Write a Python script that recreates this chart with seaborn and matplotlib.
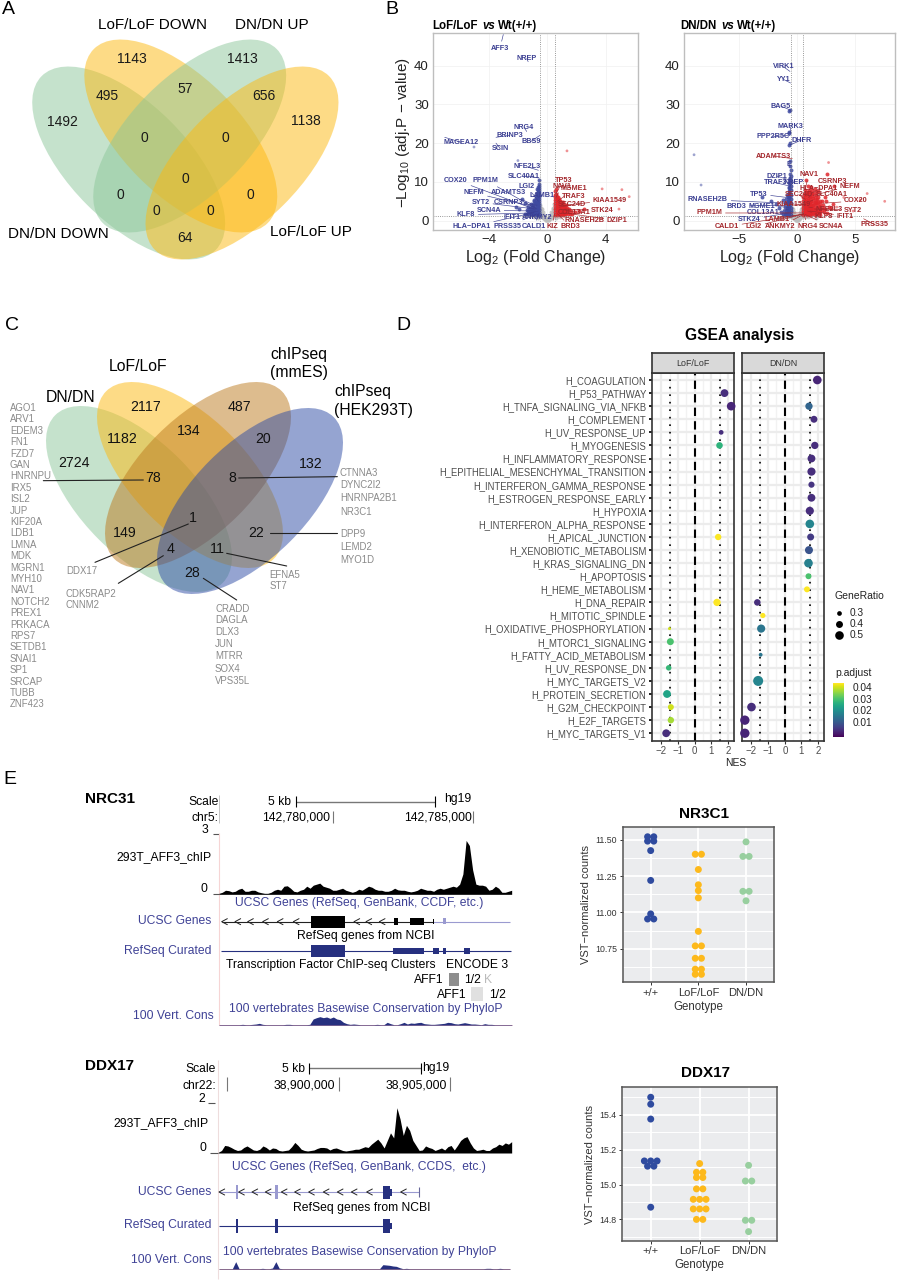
import numpy as np
import pandas as pd
import matplotlib as mpl
mpl.use('Agg')
import matplotlib.pyplot as plt
from matplotlib.patches import Ellipse, Rectangle
import seaborn as sns

# ---------- data ----------
venn_a_names = ['LoF/LoF DOWN', 'DN/DN UP', 'DN/DN DOWN', 'LoF/LoF UP']
venn_a_counts = ['1143', '1413', '495', '57', '656', '1492', '1138', '0', '0', '0', '0', '0', '0', '0', '64']
venn_c_names = ['DN/DN', 'LoF/LoF']
venn_c_counts = ['2117', '487', '1182', '134', '20', '2724', '132', '78', '8', '1', '149', '22', '4', '11', '28']

list_78 = ['AGO1', 'ARV1', 'EDEM3', 'FN1', 'FZD7', 'GAN', 'HNRNPU', 'IRX5', 'ISL2', 'JUP', 'KIF20A', 'LDB1', 'LMNA', 'MDK',
           'MGRN1', 'MYH10', 'NAV1', 'NOTCH2', 'PREX1', 'PRKACA', 'RPS7', 'SETDB1', 'SNAI1', 'SP1', 'SRCAP', 'TUBB', 'ZNF423']
list_8 = ['CTNNA3', 'DYNC2I2', 'HNRNPA2B1', 'NR3C1']
list_22 = ['DPP9', 'LEMD2', 'MYO1D']
list_11 = ['EFNA5', 'ST7']
list_28 = ['CRADD', 'DAGLA', 'DLX3', 'JUN', 'MTRR', 'SOX4', 'VPS35L']
list_4 = ['CDK5RAP2', 'CNNM2']

# volcano, LoF/LoF
lof_gray_x = [-.45, -.4, -.35, -.3, -.25, -.2, -.15, -.1, -.05, 0, .05, .1, .15, .2, .25, .3, .35, .4, .45, -.45, -.35, -.25, -.15, -.05, .05, .15, .25, .35, .45,
              -.48, -.38, -.28, .28, .38, .48, -.42, .42, -.2, .2, 0, -.9, -.7, -1.2, .7, .9, 1.2, -.6, .6, -.3, .3, -.1, .1, -.45, .45, -.2, .2]
lof_gray_y = [2.5, 2, 1.6, 1.2, 1, .7, .5, .3, .2, .1, .2, .3, .5, .8, 1.1, 1.4, 1.8, 2.2, 2.8, 1.2, .9, .6, .4, .2, .2, .4, .6, .9, 1.3,
              4, 3, 2.2, 2.2, 3, 4.2, 3.4, 3.2, 1.4, 1.3, .5, 1, .9, 1.1, .9, 1, 1.1, .7, .7, .7, .8, .6, .7, 1.8, 1.9, 1, 1.1]
lof_blue_x = [-.55, -.6, -.65, -.7, -.75, -.8, -.85, -.9, -1, -1.1, -.55, -.6, -.65, -.7, -.75, -.8, -.9, -1, -1.2, -.55, -.6, -.65, -.7, -.8, -.9, -1.1, -1.4,
              -.55, -.6, -.65, -.7, -.8, -1, -1.3, -.55, -.6, -.7, -.9, -.55, -.65, -.8, -.55, -.6, -.55, -.55, -.55, -1.5, -1.7, -2.1, -1.9,
              -.55, -.62, -.7, -.78, -.86, -.95, -1.05, -1.15, -1.25, -1.35, -1.5, -.58, -.66, -.74, -.82, -.92, -1.02, -1.12, -1.22, -1.32, -.56, -.64, -.72, -.84, -.94, -1.04, -1.18,
              -.57, -.63, -.73, -.83, -.97, -1.08, -.56, -.64, -.76, -.88, -.58, -.68, -.8, -.56, -.62, -.72, -.58, -.66, -.54, -.6, -.7]
lof_blue_y = [1.5, 1.6, 1.5, 1.6, 1.7, 1.5, 1.6, 1.8, 1.6, 1.7, 2.2, 2.4, 2.3, 2.5, 2.2, 2.4, 2.6, 2.3, 2.2, 3, 3.2, 3.1, 3.3, 3.1, 3, 3.2, 2.8,
              4, 4.1, 4.2, 4, 4.3, 3.9, 3.6, 5, 5.2, 4.9, 5, 6, 6.2, 5.8, 7, 7.5, 8.5, 9.5, 10.5, 4.5, 5.5, 3.5, 3,
              1.9, 1.8, 2, 1.9, 2.1, 2, 1.9, 1.8, 1.9, 1.7, 1.6, 2.7, 2.8, 2.7, 2.9, 2.7, 2.6, 2.8, 2.6, 2.5, 3.5, 3.6, 3.6, 3.5, 3.4, 3.5, 3.3,
              4.5, 4.6, 4.5, 4.6, 4.4, 4.2, 5.5, 5.6, 5.4, 5.3, 6.5, 6.6, 6.3, 7.3, 7.2, 7, 8, 7.8, 9, 8.8, 8.2]
lof_red_x = [.55, .6, .7, .8, .9, 1, 1.1, 1.2, .55, .65, .75, .85, .95, 1.05, 1.15, 1.3, .55, .6, .7, .8, .9, 1, 1.1, 1.3, .55, .65, .75, .85, .95, 1.05, 1.2,
             .55, .65, .75, .9, 1, .55, .6, .7, .85, .55, .65, .6,
             .58, .68, .78, .88, .98, 1.08, 1.18, 1.28, 1.4, 1.55, 1.7, .58, .68, .78, .88, .98, 1.08, 1.18, 1.28, 1.4, 1.6, .58, .68, .78, .88, .98, 1.08, 1.18, 1.35, 1.5,
             .58, .68, .78, .88, .98, 1.1, 1.25, .58, .68, .78, .92, 1.05, .58, .68, .78, .55, .62, .72, 1.9, 2.2, 2.5, .55, .6]
lof_red_y = [1.5, 1.6, 1.5, 1.6, 1.5, 1.6, 1.5, 1.6, 2.2, 2.3, 2.2, 2.4, 2.2, 2.3, 2.2, 2.3, 3, 3.1, 3, 3.2, 3, 3.1, 3, 3.1, 3.8, 3.9, 3.8, 4, 3.8, 3.9, 3.7,
             4.6, 4.7, 4.6, 4.8, 4.5, 5.4, 5.5, 5.3, 5.2, 6.2, 6.1, 7,
             1.85, 1.9, 1.85, 1.95, 1.85, 1.9, 1.85, 1.9, 1.7, 1.6, 1.7, 2.6, 2.7, 2.6, 2.75, 2.6, 2.7, 2.6, 2.7, 2.5, 2.4, 3.4, 3.5, 3.4, 3.5, 3.4, 3.5, 3.4, 3.3, 3.1,
             4.2, 4.3, 4.2, 4.3, 4.2, 4.1, 4, 5, 5.1, 5, 4.9, 4.8, 5.8, 5.7, 5.6, 6.6, 6.7, 6.2, 2.2, 2.6, 3, 7.6, 8.2]
lof_out_x = [-5, -2, 1.35, 3.75, 5.1, 5.6, 4.9]
lof_out_y = [19, 15.5, 18, 8.2, 8, 6.2, 3]
lof_blue_genes = ['AFF3', 'NREP', 'NRG4', 'BRINP3', 'MAGEA12', 'BBS9', 'SCIN', 'NFE2L3', 'SLC40A1', 'COX20', 'PPM1M', 'LGI2', 'NEFM', 'ADAMTS3', 'LAMB1',
                  'SYT2', 'CSRNP3', 'SCN4A', 'KLF8', 'IFIT1', 'ANKMY2', 'HLA\u2212DPA1', 'PRSS35', 'CALD1']
lof_blue_gene_x = [-3.0, -1.3, -1.4, -3.5, -7.0, -.5, -3.5, -.6, -.55, -.9, -.7, -.6, -.8, -.9, -.6, -.8, -.7, -.8, -.9, -.6, -.55, -1.0, -.7, -.6]
lof_blue_gene_y = [48, 41, 23, 21.5, 21.5, 22, 20, 13, 11, 3, 3, 5, 3.5, 4, 6, 3, 4, 2.5, 2, 2.5, 2, 2, 1.8, 1.8]
lof_red_genes = ['TP53', 'NAV1', 'MGME1', 'TRAF3', 'KIAA1549', 'SEC24D', 'COL13A1', 'STK24', 'RNASEH2B', 'DZIP1', 'KIZ', 'BRD3']
lof_red_gene_x = [.6, .6, .7, .8, 1.2, .8, .9, 1.2, 1.0, 1.2, .5, .7]
lof_red_gene_y = [7, 6, 5, 4.5, 4, 3.5, 3, 3, 2, 2, 1.8, 1.8]

# volcano, DN/DN
dn_gray_x = [-.45, -.4, -.35, -.3, -.25, -.2, -.15, -.1, -.05, 0, .05, .1, .15, .2, .25, .3, .35, .4, .45, -.45, -.35, -.25, -.15, -.05, .05, .15, .25, .35, .45,
             -.48, -.38, -.28, .28, .38, .48, -.42, .42, -.2, .2, 0, -.9, -.7, -1.2, .7, .9, 1.2, -1.6, 1.6, -.3, .3, -.1, .1, -.45, .45, -.2, .2]
dn_gray_y = [2.6, 2.1, 1.7, 1.3, 1, .7, .5, .3, .2, .1, .2, .3, .5, .8, 1.1, 1.4, 1.8, 2.2, 2.8, 1.2, .9, .6, .4, .2, .2, .4, .6, .9, 1.3,
             4, 3, 2.2, 2.2, 3, 4.2, 3.4, 3.2, 1.4, 1.3, .5, 1, .9, 1.1, .9, 1, 1.1, .8, .8, .7, .8, .6, .7, 1.8, 1.9, 1, 1.1]
dn_blue_x = [-.55, -.6, -.65, -.7, -.8, -.9, -1, -1.2, -.55, -.6, -.7, -.8, -.9, -1.1, -1.4, -.55, -.6, -.65, -.75, -.85, -1, -1.5, -.55, -.6, -.7, -.8, -1, -1.8,
             -.55, -.6, -.7, -.9, -1.2, -.55, -.6, -.7, -.85, -.55, -.6, -.7, -.55, -.6, -.7, -.55, -.6, -.55, -.6, -.55, -.6, -.6, -.65, -.6, -.7, -.65, -.6, -.65, -2.2, -3,
             -.58, -.68, -.78, -.88, -.58, -.68, -.78, -.88, -.58, -.68, -.78, -.58, -.68, -.78, -.58, -.68, -.78, -.58, -.68, -.58, -.68, -.6, -.66, -.56, -.64]
dn_blue_y = [1.5, 1.6, 1.5, 1.7, 1.5, 1.6, 1.5, 1.7, 2.4, 2.5, 2.3, 2.6, 2.4, 2.5, 2.3, 3.4, 3.5, 3.3, 3.6, 3.4, 3.5, 3.2, 4.5, 4.6, 4.4, 4.7, 4.5, 4.2,
             5.6, 5.5, 5.8, 5.6, 5.4, 6.6, 6.8, 6.5, 6.7, 7.8, 8, 7.6, 9, 9.2, 8.8, 10.2, 10.6, 11.5, 12, 13, 14, 15.5, 19.5, 20, 22.5, 22.8, 28.5, 28.2, 5, 6,
             2, 2.1, 2, 2.1, 3, 3, 3.1, 2.9, 4, 4.1, 4, 5, 5.1, 5, 6.2, 6.1, 6, 7.2, 7.2, 8.4, 8.5, 9.8, 9.6, 11, 10.9]
dn_red_x = [.55, .7, .85, 1, 1.15, 1.3, 1.5, 1.7, 2, .55, .7, .85, 1, 1.15, 1.3, 1.5, 1.7, 2, 2.3, .55, .7, .85, 1, 1.15, 1.3, 1.5, 1.7, 2, 2.4, .55, .7, .85, 1, 1.2, 1.4, 1.6, 1.9, 2.2, 2.7,
            .55, .7, .85, 1, 1.2, 1.5, 1.8, 2.1, .55, .7, .9, 1.1, 1.4, 1.7, 2.5, .6, .8, 1, 1.3, 1.6, .7, 1, 1.3, 1.6, .9, 1.2, 1.5, .8, 2.6, 3.2,
            .62, .78, .92, 1.08, 1.22, 1.38, 1.6, 1.85, .62, .78, .92, 1.08, 1.22, 1.38, 1.6, 1.85, 2.15, .62, .78, .92, 1.08, 1.22, 1.38, 1.6, 1.85, 2.2, .62, .78, .92, 1.08, 1.3, 1.55, 1.75, 2,
            .62, .78, .95, 1.15, 1.35, 1.65, 1.95, .65, .85, 1.05, 1.25, 1.5, 1.8, .75, .95, 1.15, 1.4, 2.9, 3.1, 2.6, 1.8, 2.4]
dn_red_y = [1.5, 1.6, 1.5, 1.7, 1.5, 1.6, 1.5, 1.6, 1.5, 2.4, 2.3, 2.5, 2.4, 2.3, 2.5, 2.3, 2.4, 2.3, 2.2, 3.2, 3.3, 3.1, 3.4, 3.2, 3.3, 3.1, 3.2, 3.1, 3, 4.1, 4.2, 4, 4.3, 4.1, 4, 4.2, 3.9, 4, 3.6,
            5, 5.1, 4.9, 5.2, 5, 4.9, 4.8, 5, 6, 6.1, 5.9, 6, 5.8, 5.7, 5, 7, 6.9, 7.1, 6.8, 6.6, 8, 7.9, 7.8, 7.4, 9, 8.8, 8.2, 10.5, 12, 9,
            1.95, 2, 1.9, 2, 1.9, 2, 1.9, 1.9, 2.8, 2.9, 2.8, 2.9, 2.8, 2.9, 2.8, 2.8, 2.7, 3.6, 3.7, 3.6, 3.8, 3.6, 3.7, 3.6, 3.6, 3.4, 4.6, 4.6, 4.5, 4.7, 4.5, 4.6, 4.5, 4.4,
            5.5, 5.5, 5.4, 5.6, 5.4, 5.3, 5.2, 6.5, 6.5, 6.4, 6.3, 6.2, 6.1, 7.4, 7.5, 7.3, 7.2, 3.3, 4.4, 2, 7.6, 6]
dn_out_x = [-8.8, -8.2, 2.7, 3.4, 4, 4.8, 5.4, 6, 7.5]
dn_out_y = [17, 9.2, 15, 3.5, 6, 2.5, 5.3, 7, 5]
dn_blue_genes = ['VIRK1', 'YY1', 'BAG5', 'MARK3', 'PPP2R5C', 'DHFR', 'E', 'DZIP1', 'TRAF3', 'NREP', 'TP53', 'RNASEH2B', 'BRD3', 'MGME1', 'COL13A1', 'STK24']
dn_blue_gene_x = [-.6, -.55, -.55, -.55, -.6, -.6, -.6, -.65, -.7, -.6, -.9, -.8, -.7, -.7, -.7, -.7]
dn_blue_gene_y = [38.5, 35.5, 28.5, 22.5, 22, 19.5, 14, 10.5, 9, 9, 6, 4.5, 4, 3.5, 3, 2]
dn_red_genes = ['ADAMTS3', 'NAV1', 'CSRNP3', 'NEFM', 'HLA\u2212DPA1', 'SEC24D', 'SLC40A1', 'COX20', 'KIAA1549', 'NFE2L3', 'SYT2', 'KLF8', 'IFIT1', 'PPM1M',
                'LAMB1', 'CALD1', 'LGI2', 'ANKMY2', 'NRG4', 'SCN4A', 'PRSS35']
dn_red_gene_x = [-.4, .7, 1.2, 1.4, 1, .7, 1.1, 2.2, .7, 1, 1.5, .9, 1.1, .55, .55, .55, .55, .55, .6, .7, 5.7]
dn_red_gene_y = [16, 8, 7, 6.5, 6, 5.5, 5, 4.5, 4, 3.5, 3, 2.5, 2.5, 2, 1.8, 1.7, 1.7, 1.6, 1.6, 1.6, .5]

# GSEA
gsea_terms = ['H_COAGULATION', 'H_P53_PATHWAY', 'H_TNFA_SIGNALING_VIA_NFKB', 'H_COMPLEMENT', 'H_UV_RESPONSE_UP', 'H_MYOGENESIS',
              'H_INFLAMMATORY_RESPONSE', 'H_EPITHELIAL_MESENCHYMAL_TRANSITION', 'H_INTERFERON_GAMMA_RESPONSE', 'H_ESTROGEN_RESPONSE_EARLY',
              'H_HYPOXIA', 'H_INTERFERON_ALPHA_RESPONSE', 'H_APICAL_JUNCTION', 'H_XENOBIOTIC_METABOLISM', 'H_KRAS_SIGNALING_DN', 'H_APOPTOSIS',
              'H_HEME_METABOLISM', 'H_DNA_REPAIR', 'H_MITOTIC_SPINDLE', 'H_OXIDATIVE_PHOSPHORYLATION', 'H_MTORC1_SIGNALING',
              'H_FATTY_ACID_METABOLISM', 'H_UV_RESPONSE_DN', 'H_MYC_TARGETS_V2', 'H_PROTEIN_SECRETION', 'H_G2M_CHECKPOINT', 'H_E2F_TARGETS', 'H_MYC_TARGETS_V1']
lof_terms = ['H_P53_PATHWAY', 'H_TNFA_SIGNALING_VIA_NFKB', 'H_UV_RESPONSE_UP', 'H_MYOGENESIS', 'H_APICAL_JUNCTION', 'H_DNA_REPAIR', 'H_OXIDATIVE_PHOSPHORYLATION',
             'H_MTORC1_SIGNALING', 'H_UV_RESPONSE_DN', 'H_PROTEIN_SECRETION', 'H_G2M_CHECKPOINT', 'H_E2F_TARGETS', 'H_MYC_TARGETS_V1']
lof_nes = [1.8, 2.2, 1.6, 1.5, 1.42, 1.35, -1.5, -1.45, -1.55, -1.65, -1.42, -1.42, -1.7]
lof_padj = [.003, .002, .003, .027, .043, .045, .04, .03, .028, .024, .04, .037, .003]
lof_ratio = [.45, .5, .3, .38, .37, .42, .25, .4, .33, .45, .35, .37, .45]
dn_terms = ['H_COAGULATION', 'H_TNFA_SIGNALING_VIA_NFKB', 'H_COMPLEMENT', 'H_MYOGENESIS', 'H_INFLAMMATORY_RESPONSE', 'H_EPITHELIAL_MESENCHYMAL_TRANSITION',
            'H_INTERFERON_GAMMA_RESPONSE', 'H_ESTROGEN_RESPONSE_EARLY', 'H_HYPOXIA', 'H_INTERFERON_ALPHA_RESPONSE', 'H_APICAL_JUNCTION', 'H_XENOBIOTIC_METABOLISM',
            'H_KRAS_SIGNALING_DN', 'H_APOPTOSIS', 'H_HEME_METABOLISM', 'H_DNA_REPAIR', 'H_MITOTIC_SPINDLE', 'H_OXIDATIVE_PHOSPHORYLATION', 'H_FATTY_ACID_METABOLISM',
            'H_MYC_TARGETS_V2', 'H_G2M_CHECKPOINT', 'H_E2F_TARGETS', 'H_MYC_TARGETS_V1']
dn_nes = [1.95, 1.45, 1.75, 1.8, 1.6, 1.6, 1.6, 1.6, 1.5, 1.5, 1.55, 1.45, 1.42, 1.42, 1.33, -1.65, -1.32, -1.42, -1.45, -1.6, -2.0, -2.4, -2.4]
dn_padj = [.002, .012, .003, .003, .003, .003, .004, .003, .003, .018, .005, .009, .017, .03, .045, .003, .045, .015, .015, .018, .003, .002, .002]
dn_ratio = [.5, .42, .4, .42, .45, .47, .36, .45, .47, .5, .4, .46, .5, .35, .35, .38, .32, .47, .27, .6, .5, .55, .55]
legend_ratio = [.3, .4, .5]

# genotype dots
genotypes = ['+/+', 'LoF/LoF', 'DN/DN']
nr3c1_wt = [11.52, 11.52, 11.49, 11.49, 11.425, 11.22, 10.99, 10.955, 10.955]
nr3c1_lof = [11.40, 11.40, 11.295, 11.19, 11.15, 11.10, 10.87, 10.77, 10.77, 10.685, 10.685, 10.61, 10.61, 10.575, 10.575]
nr3c1_dn = [11.485, 11.385, 11.385, 11.145, 11.145, 11.08]
ddx17_wt = [15.50, 15.46, 15.375, 15.135, 15.135, 15.135, 15.105, 15.105, 14.87]
ddx17_lof = [15.12, 15.07, 15.07, 15.04, 15.04, 14.975, 14.975, 14.915, 14.915, 14.915, 14.86, 14.86, 14.86, 14.80, 14.80]
ddx17_dn = [15.11, 15.02, 15.02, 14.795, 14.795, 14.73]

# browser tracks, read bin by bin
chip_aff3 = [.05, .1, .2, .18, .12, .15, .25, .3, .15, .15, .2, .2, .12, .08, .05, .05, .1, .2, .25, .2, .4, .42, .3, .15, .12, .2, .25, .4, .3, .45, .5, .55, .4, .35,
             .3, .2, .2, .25, .3, .2, .15, .1, .15, .25, .2, .3, .4, .35, .25, .2, .2, .15, .15, .2, .3, .22, .2, .2, .15, .12, .15, .2, .3, .25, .2, .2, .15, .25, .3,
             .25, .3, .35, .4, .35, .5, 1.0, 2.65, 2.4, 1.2, .5, .45, .45, .4, .2, .25, .4, .3, .1, .1, .15, .2]
chip_ddx17 = [.03, .1, .3, .28, .22, .15, .1, .12, .22, .28, .2, .12, .1, .15, .28, .22, .12, .2, .18, .1, .08, .1, .12, .25, .42, .3, .15, .1, .08, .1, .12, .18, .22, .22, .2, .12,
              .18, .2, .15, .1, .08, .1, .12, .15, .15, .2, .25, .22, .35, .45, .55, .4, .2, .5, .8, .6, 1.8, 1.35, .7, 1.1, .9, .5, .3, .1, .12, .28, .22, .18, .1, .15, .2, .12, .25, .3, .12, .3, .5,
              .6, .65, .4, .2, .1, .12, .15, .1, .1, .2, .25, .35, .3, .4, .35, .45]
cons_aff3 = [1, 1, 1, 1, 1, 1, 1, 2, 1, 1, 2, 3, 5, 2, 1, 1, 1, 1, 1, 1, 2, 2, 1, 1, 1, 1, 1, 2, 18, 22, 25, 22, 24, 20, 24, 18, 16, 8, 4, 2, 3, 2, 1, 1, 1, 1, 1, 2, 1, 1, 8, 4, 1, 1, 4, 8, 3, 6, 5,
             7, 8, 4, 3, 2, 2, 3, 4, 5, 8, 7, 4, 3, 5, 7, 5, 3, 3, 2, 1, 4, 2, 2, 1, 1, 1, 1, 1, 1]
cons_ddx17 = [1, 1, 1, 1, 1, 22, 1, 1, 1, 1, 1, 1, 1, 2, 1, 1, 3, 22, 2, 1, 1, 1, 1, 1, 1, 1, 1, 1, 1, 1, 1, 1, 1, 1, 1, 1, 1, 1, 1, 1, 1, 1, 1, 1, 1, 1, 1, 1, 1, 13, 12, 11, 9, 8, 4, 1, 2, 1,
              1, 1, 1, 1, 1, 1, 1, 1, 1, 1, 1, 1, 1, 1, 1, 1, 1, 1, 1, 1, 1, 1, 2, 2, 1, 1, 2, 1, 1, 1]

# ---------- setup ----------
W, H = 897, 1280
sns.set_style('white')
plt.rcParams['font.family'] = ['Liberation Sans', 'DejaVu Sans']
plt.rcParams['mathtext.fontset'] = 'custom'
plt.rcParams['mathtext.rm'] = 'Liberation Sans'
plt.rcParams['mathtext.it'] = 'Liberation Sans:italic'
plt.rcParams['mathtext.bf'] = 'Liberation Sans:bold'
plt.rcParams['mathtext.default'] = 'regular'

fig = plt.figure(figsize=(W / 100, H / 100), dpi=100)
ov = fig.add_axes([0, 0, 1, 1], zorder=0)
ov.set_xlim(0, W)
ov.set_ylim(H, 0)
ov.axis('off')


def px_axes(l, t, r, b, **kw):
    return fig.add_axes([l / W, 1 - b / H, (r - l) / W, (b - t) / H], **kw)


def txt(x, y, s, size, color='black', ha='center', weight='normal', **kw):
    ov.text(x, y, s, fontsize=size, color=color, ha=ha, va='center', fontweight=weight, **kw)


def zoomed(ox, oy):
    # the positions below were measured on 3x crops
    return lambda x, y: (ox + x / 3, oy + y / 3)


for s, x, y in [('A', 8, 10), ('B', 392, 10), ('C', 12, 325), ('D', 403, 325), ('E', 10, 780)]:
    txt(x, y, s, 14)

# ---------- A ----------
GREEN, YELLOW, TAN, BLUE = '#8CC79A', '#FDB90F', '#BD7A1E', '#2D4BA5'
for (cx, cy, ang, col) in [(128.7, 163, 45, GREEN), (180.8, 136, 45, YELLOW), (189.7, 136, -45, GREEN), (242, 163, -45, YELLOW)]:
    ov.add_patch(Ellipse((cx, cy), 246, 118, angle=ang, facecolor=col, alpha=.5, edgecolor='none'))
z = zoomed(0, 0)
for s, p in zip(venn_a_names, [(458, 75), (816, 75), (174, 702), (933, 695)]):
    txt(*z(*p), s, 11)
for s, p in zip(venn_a_counts, [(395, 177), (728, 177), (322, 287), (555, 267), (793, 287), (186, 367), (918, 362), (433, 415), (677, 415),
                                (555, 538), (361, 586), (750, 586), (469, 632), (632, 632), (555, 715)]):
    txt(*z(*p), s, 10, color='#1a1a1a')

# ---------- B ----------
BLUE_TXT, RED_TXT = '#3B3F92', '#A3262B'
BLUE_PT, RED_PT = '#3F4AA0', '#E0262B'


def volcano(ax, xlim, ticks, gray, blue, red, out, blue_lab, red_lab, org):
    for (xs, ys), col in [(gray, '#BDBDBD'), (blue, BLUE_PT), (red, RED_PT)]:
        sns.scatterplot(x=xs, y=ys, color=col, s=8, alpha=.85, linewidth=0, ax=ax, legend=False)
    out_col = [BLUE_PT if a < 0 else RED_PT for a in out[0]]
    sns.scatterplot(x=out[0], y=out[1], c=out_col, s=4, alpha=.5, linewidth=0, ax=ax, legend=False)
    ax.set_xlim(*xlim)
    ax.set_ylim(-2.4, 48.4)
    ax.set_xticks(ticks)
    ax.set_xticklabels([str(t).replace('-', '\u2212') for t in ticks], fontsize=9.5, color='#222222')
    ax.set_yticks([0, 10, 20, 30, 40])
    ax.set_yticklabels(['0', '10', '20', '30', '40'], fontsize=9.5, color='#222222')
    ax.tick_params(length=0, pad=3)
    ax.grid(True, color='#F0F0F0', lw=.5)
    ax.set_axisbelow(True)
    for sp in ax.spines.values():
        sp.set_color('#BEBEBE')
        sp.set_linewidth(1)
    ax.axvline(-.5, color='#777777', lw=.6, ls=':')
    ax.axvline(.5, color='#777777', lw=.6, ls=':')
    ax.axhline(1.3, color='#777777', lw=.6, ls=':')
    ax.set_xlabel('Log$_2$ (Fold Change)', fontsize=11.5, labelpad=1, color='#222222')
    for (genes, gx, gy, lab), col in [(blue_lab, BLUE_TXT), (red_lab, RED_TXT)]:
        for g, a, b, (zx, zy) in zip(genes, gx, gy, lab):
            ax.annotate(g, xy=(a, b), xytext=org(zx, zy), textcoords=ov.transData, fontsize=5.2, fontweight='bold', color=col,
                        ha='center', va='center', arrowprops=dict(arrowstyle='-', lw=.45, color=col, shrinkA=0, shrinkB=0))


lof_blue_pos = [(240, 144), (320, 176), (312, 382), (270, 406), (124, 427), (333, 424), (240, 445), (320, 500), (312, 528), (108, 540), (196, 540), (320, 558),
                (162, 579), (264, 579), (366, 587), (182, 607), (266, 608), (206, 631), (138, 644), (276, 652), (352, 652), (154, 680), (262, 680), (342, 681)]
lof_red_pos = [(430, 541), (426, 558), (462, 567), (462, 590), (570, 601), (456, 615), (462, 636), (548, 632), (494, 662), (592, 662), (396, 681), (452, 681)]
dn_blue_pos = [(1090, 200), (1090, 238), (1082, 318), (1112, 380), (1058, 410), (1144, 420), (1108, 493), (1070, 528), (1066, 548), (1122, 546), (1016, 582),
               (864, 599), (950, 618), (1024, 618), (1030, 639), (988, 659)]
dn_red_pos = [(1060, 468), (1166, 522), (1236, 544), (1288, 558), (1196, 564), (1138, 585), (1236, 583), (1308, 603), (1120, 612), (1228, 628), (1298, 630),
              (1212, 648), (1276, 648), (868, 639), (1070, 659), (920, 680), (1002, 680), (1080, 680), (1164, 680), (1234, 680), (1364, 674)]
zb = zoomed(420, 0)
ax1 = px_axes(433, 33, 638, 230, zorder=2)
volcano(ax1, (-7.8, 6.2), [-4, 0, 4], (lof_gray_x, lof_gray_y), (lof_blue_x, lof_blue_y), (lof_red_x, lof_red_y), (lof_out_x, lof_out_y),
        (lof_blue_genes, lof_blue_gene_x, lof_blue_gene_y, lof_blue_pos), (lof_red_genes, lof_red_gene_x, lof_red_gene_y, lof_red_pos), zb)
ax2 = px_axes(684, 33, 895, 230, zorder=2)
volcano(ax2, (-9.66, 8.38), [-5, 0, 5], (dn_gray_x, dn_gray_y), (dn_blue_x, dn_blue_y), (dn_red_x, dn_red_y), (dn_out_x, dn_out_y),
        (dn_blue_genes, dn_blue_gene_x, dn_blue_gene_y, dn_blue_pos), (dn_red_genes, dn_red_gene_x, dn_red_gene_y, dn_red_pos), zb)
for x0, x1, x2, first in [(432.7, 482.7, 498.3, 'LoF/LoF'), (680.3, 721, 736.7, 'DN/DN')]:
    txt(x0, 26, first, 8.3, ha='left', weight='bold')
    txt(x1, 26, 'vs', 8.3, ha='left', weight='bold', style='italic')
    txt(x2, 26, 'Wt(+/+)', 8.3, ha='left', weight='bold')
txt(403, 133, '\u2212Log$_{10}$ (adj.P \u2212 value)', 11, rotation=90, color='#222222')

# ---------- C ----------
for (cx, cy, ang, col) in [(139, 499, 45, GREEN), (190, 475, 45, YELLOW), (198, 475, -45, TAN), (250, 501, -45, BLUE)]:
    ov.add_patch(Ellipse((cx, cy), 237, 114, angle=ang, facecolor=col, alpha=.5, edgecolor='none'))
zc = zoomed(0, 320)
for s, p in zip(venn_c_names, [(212, 233), (413, 140)]):
    txt(*zc(*p), s, 11.3)
txt(*zc(810, 102), 'chIPseq', 11.3, ha='left')
txt(*zc(810, 158), '(mmES)', 11.3, ha='left')
txt(*zc(1002, 215), 'chIPseq', 11.3, ha='left')
txt(*zc(1002, 272), '(HEK293T)', 11.3, ha='left')
for s, p in zip(venn_c_counts, [(436, 262), (718, 262), (366, 357), (565, 333), (790, 357), (222, 428), (933, 432), (460, 475), (696, 475),
                                (578, 595), (375, 640), (767, 640), (511, 688), (653, 688), (577, 758)]):
    txt(*zc(*p), s, 10.2, color='#111111')
GENE_GRAY = '#8A8A8A'
GENE_FS = 6.9
for i, g in enumerate(list_78):
    txt(*zc(30, 264 + 34.2 * i), g, GENE_FS, color=GENE_GRAY, ha='left')
for g, zy in zip(list_8, [459, 495, 535, 575]):
    txt(*zc(1020, zy), g, GENE_FS, color=GENE_GRAY, ha='left')
for g, zy in zip(list_22, [643, 681, 719]):
    txt(*zc(1020, zy), g, GENE_FS, color=GENE_GRAY, ha='left')
for g, zy in zip(list_11, [764, 799]):
    txt(*zc(808, zy), g, GENE_FS, color=GENE_GRAY, ha='left')
for g, zy in zip(list_28, [866, 900, 936, 972, 1009, 1046, 1083]):
    txt(*zc(645, zy), g, GENE_FS, color=GENE_GRAY, ha='left')
for g, zy in zip(list_4, [822, 856]):
    txt(*zc(198, zy), g, GENE_FS, color=GENE_GRAY, ha='left')
txt(*zc(198, 754), 'DDX17', GENE_FS, color=GENE_GRAY, ha='left')
for a, b in [((130, 482), (430, 480)), ((716, 474), (1012, 470)), ((285, 727), (565, 612)), ((355, 790), (490, 707)),
             ((680, 700), (860, 738)), ((810, 640), (1012, 640)), ((610, 775), (710, 840))]:
    p, q = zc(*a), zc(*b)
    ov.plot([p[0], q[0]], [p[1], q[1]], color='#222222', lw=.8)

# ---------- D ----------
row_of = {t: i for i, t in enumerate(gsea_terms)}
strip_names = ['LoF/LoF', 'DN/DN']
panels = [(651.7, 734, lof_terms, lof_nes, lof_padj, lof_ratio), (742, 824.3, dn_terms, dn_nes, dn_padj, dn_ratio)]
S_LO, S_HI = 4.75, 52
pvmin, pvmax = -.003, .0433
for k, (l, r, terms, nes, padj, ratio) in enumerate(panels):
    ax = px_axes(l, 372.7, r, 740.7, zorder=2)
    df = pd.DataFrame({'NES': nes, 'row': [row_of[t] for t in terms], 'padj': padj, 'ratio': ratio})
    ax.set_axisbelow(True)
    ax.set_xticks([-1.5, -.5, .5, 1.5], minor=True)
    ax.grid(True, which='major', color='#ECECEC', lw=1.6)
    ax.grid(True, which='minor', axis='x', color='#F2F2F2', lw=1)
    ax.axvline(0, color='black', lw=1.5, ls=(0, (4, 2.5)))
    ax.axvline(-1.5, color='black', lw=1.2, ls=(0, (1, 3.5)))
    ax.axvline(1.5, color='black', lw=1.2, ls=(0, (1, 3.5)))
    sns.scatterplot(data=df, x='NES', y='row', hue='padj', size='ratio', palette='viridis', hue_norm=(pvmin, pvmax), sizes=(S_LO, S_HI), size_norm=(.25, .6),
                    linewidth=0, legend=False, ax=ax, clip_on=False, zorder=3)
    ax.set_xlim(-2.57, 2.37)
    ax.set_ylim(27.57, -.56)
    ax.set_xticks([-2, -1, 0, 1, 2])
    ax.set_xticks([-1.5, -.5, .5, 1.5], minor=True)
    ax.set_xticklabels(['\u22122', '\u22121', '0', '1', '2'], fontsize=7, color='#4D4D4D')
    ax.set_yticks(range(len(gsea_terms)))
    if k == 0:
        ax.set_yticklabels(gsea_terms, fontsize=6.85, color='#4D4D4D')
    else:
        ax.set_yticklabels([])
    ax.tick_params(axis='x', which='major', length=2, width=.8, pad=1.5, color='#333333', bottom=True)
    ax.tick_params(axis='x', which='minor', length=0)
    ax.tick_params(axis='y', length=2.5 if k == 0 else 0, width=1.4, pad=1.5, color='#222222', left=(k == 0))
    ax.set_xlabel('')
    ax.set_ylabel('')
    for sp in ax.spines.values():
        sp.set_color('#333333')
        sp.set_linewidth(1.2)
    st = px_axes(l, 353.3, r, 372.7, zorder=2)
    st.set_facecolor('#D9D9D9')
    st.set_xticks([])
    st.set_yticks([])
    for sp in st.spines.values():
        sp.set_color('#333333')
        sp.set_linewidth(1.2)
    st.text(.5, .48, strip_names[k], transform=st.transAxes, ha='center', va='center', fontsize=6.4, color='#333333')

zd = zoomed(440, 320)
txt(*zd(900, 47), 'GSEA analysis', 11.2, weight='bold')
txt(*zd(888, 1330), 'NES', 7.5, color='#222222')
txt(*zd(1258, 828), 'GeneRatio', 7.5, color='#222222')
txt(*zd(1240, 1060), 'p.adjust', 7.5, color='#222222')
for v, zy in zip(legend_ratio, [880, 913, 946]):
    s = S_LO + (v - .25) / .35 * (S_HI - S_LO)
    ov.scatter(*zd(1196, zy), s=s, color='black', linewidth=0)
    txt(*zd(1230, zy), str(v), 7.3, color='#222222', ha='left')
cax = px_axes(833.3, 683.3, 844, 737.3, zorder=2)
sm = mpl.cm.ScalarMappable(norm=mpl.colors.Normalize(pvmin, pvmax), cmap='viridis')
cb = fig.colorbar(sm, cax=cax)
cb.outline.set_visible(False)
cb.set_ticks([.01, .02, .03, .04])
cb.set_ticklabels(['0.01', '0.02', '0.03', '0.04'])
cax.tick_params(labelsize=7.3, labelcolor='#222222', length=2, color='white', direction='in', pad=6, width=.5)

# ---------- E, browser tracks ----------
NAVY, TXT_BLUE, LAV = '#26307F', '#3F4296', '#9A9AD0'
BFS = 8.7


def hline(f, x0, x1, y, col='black', lw=.8):
    p, q = f(x0, y), f(x1, y)
    ov.plot([p[0], q[0]], [p[1], q[1]], color=col, lw=lw, solid_capstyle='butt')


def vline(f, x, y0, y1, col='black', lw=.8):
    p, q = f(x, y0), f(x, y1)
    ov.plot([p[0], q[0]], [p[1], q[1]], color=col, lw=lw, solid_capstyle='butt')


def box(f, x0, x1, y0, y1, col):
    p, q = f(x0, y0), f(x1, y1)
    ov.add_patch(Rectangle(p, q[0] - p[0], q[1] - p[1], facecolor=col, edgecolor='none', zorder=3))


def chev(f, xs, y, col='#222222'):
    for x in xs:
        ov.plot([f(x + 17, y)[0], f(x, y)[0], f(x + 17, y)[0]], [f(x, y - 9)[1], f(x, y)[1], f(x, y + 9)[1]], color=col, lw=.7)


def track(f, x0, x1, ybase, ytop, vals, vmax, col):
    p, q = f(x0, ytop), f(x1, ybase)
    a = px_axes(p[0], p[1], q[0], q[1], zorder=1)
    a.patch.set_visible(False)
    a.axis('off')
    a.fill_between(np.linspace(0, 1, len(vals)), vals, 0, color=col, lw=0)
    a.set_xlim(0, 1)
    a.set_ylim(0, vmax)


# NRC31
f = zoomed(70, 780)
txt(*f(120, 58), 'NRC31', 11, weight='bold')
txt(*f(445, 67), 'Scale', BFS, ha='right')
txt(*f(445, 113), 'chr5:', BFS, ha='right')
txt(*f(405, 150), '3', BFS)
hline(f, 428, 448, 162, '#555555')
vline(f, 447, 45, 130, '#BBBBBB', .6)
vline(f, 447, 160, 735, '#F6D5D5', .8)
txt(*f(662, 65), '5 kb', BFS, ha='right')
hline(f, 678, 1095, 65, '#777777', 1)
vline(f, 678, 48, 82)
vline(f, 1095, 48, 82)
txt(*f(1123, 57), 'hg19', BFS, ha='left')
txt(*f(780, 113), '142,780,000', BFS, ha='right')
vline(f, 790, 92, 128, '#777777')
txt(*f(1205, 113), '142,785,000', BFS, ha='right')
vline(f, 1209, 92, 128, '#777777')
txt(*f(425, 232), '293T_AFF3_chIP', BFS, ha='right')
txt(*f(403, 327), '0', BFS)
hline(f, 428, 448, 342, '#555555')
track(f, 447, 1325, 343, 160, chip_aff3, 3, 'black')
txt(*f(867, 369), 'UCSC Genes (RefSeq, GenBank, CCDF, etc.)', BFS, color=TXT_BLUE)
txt(*f(425, 424), 'UCSC Genes', BFS, color=TXT_BLUE, ha='right')
hline(f, 455, 1090, 425, '#222222')
hline(f, 1090, 1320, 425, LAV)
chev(f, [455, 495, 533, 578, 622, 670, 852, 888, 928], 425)
box(f, 724, 824, 408, 443, 'black')
box(f, 972, 984, 415, 435, 'black')
box(f, 1021, 1062, 415, 435, 'black')
box(f, 1088, 1091, 418, 432, 'black')
box(f, 1120, 1128, 415, 433, LAV)
txt(*f(888, 468), 'RefSeq genes from NCBI', BFS)
txt(*f(425, 512), 'RefSeq Curated', BFS, color=TXT_BLUE, ha='right')
hline(f, 452, 1322, 513, NAVY)
box(f, 724, 824, 496, 531, NAVY)
for a, b in [(970, 1062), (1088, 1107), (1120, 1129), (1183, 1201)]:
    box(f, a, b, 505, 522, NAVY)
txt(*f(782, 554), 'Transcription Factor ChIP-seq Clusters', BFS)
txt(*f(1222, 554), 'ENCODE 3', BFS)
txt(*f(1122, 599), 'AFF1', BFS, ha='right')
box(f, 1137, 1168, 578, 618, '#8E8E8E')
txt(*f(1183, 599), '1/2', BFS, ha='left')
txt(*f(1241, 599), 'K', BFS, ha='left', color='#BBBBBB')
txt(*f(1190, 645), 'AFF1', BFS, ha='right')
box(f, 1203, 1240, 620, 662, '#E0E0E0')
txt(*f(1256, 645), '1/2', BFS, ha='left')
txt(*f(430, 708), '100 Vert. Cons', BFS, color=TXT_BLUE, ha='right')
txt(*f(888, 688), '100 vertebrates Basewise Conservation by PhyloP', BFS, color=TXT_BLUE)
track(f, 447, 1325, 735, 705, cons_aff3, 30, NAVY)
hline(f, 447, 1325, 735, '#9A5A7A', .5)

# DDX17
f = zoomed(70, 1040)
txt(*f(120, 78), 'DDX17', 11, weight='bold')
txt(*f(438, 87), 'Scale', BFS, ha='right')
txt(*f(438, 137), 'chr22:', BFS, ha='right')
vline(f, 472, 110, 152, '#777777')
txt(*f(396, 178), '2', BFS)
hline(f, 415, 436, 190, '#555555')
vline(f, 445, 60, 718, '#EEDDDD', .8)
txt(*f(705, 87), '5 kb', BFS, ha='right')
hline(f, 718, 1052, 85, '#777777', 1)
vline(f, 718, 68, 102)
vline(f, 1052, 68, 102)
txt(*f(1057, 84), 'hg19', BFS, ha='left')
txt(*f(795, 137), '38,900,000', BFS, ha='right')
vline(f, 806, 112, 152, '#777777')
txt(*f(1132, 137), '38,905,000', BFS, ha='right')
vline(f, 1141, 112, 152, '#777777')
txt(*f(416, 250), '293T_AFF3_chIP', BFS, ha='right')
txt(*f(400, 323), '0', BFS)
hline(f, 420, 445, 338, '#555555')
track(f, 445, 1325, 339, 188, chip_ddx17, 2, 'black')
txt(*f(866, 380), 'UCSC Genes (RefSeq, GenBank, CCDS,  etc.)', BFS, color=TXT_BLUE)
txt(*f(425, 457), 'UCSC Genes', BFS, color=TXT_BLUE, ha='right')
hline(f, 447, 1048, 456, LAV)
chev(f, [447, 506, 546, 586, 634, 674, 716, 760, 802, 844, 890, 992], 456)
box(f, 499, 503, 436, 478, LAV)
box(f, 615, 624, 436, 478, LAV)
box(f, 938, 960, 437, 478, NAVY)
box(f, 960, 966, 447, 468, NAVY)
vline(f, 1048, 440, 472, '#666699')
txt(*f(876, 503), 'RefSeq genes from NCBI', BFS)
txt(*f(425, 556), 'RefSeq Curated', BFS, color=TXT_BLUE, ha='right')
hline(f, 447, 945, 558, NAVY)
box(f, 498, 505, 538, 578, NAVY)
box(f, 614, 625, 538, 578, NAVY)
box(f, 938, 960, 538, 578, NAVY)
box(f, 960, 966, 548, 568, NAVY)
txt(*f(425, 660), '100 Vert. Cons', BFS, color=TXT_BLUE, ha='right')
txt(*f(870, 637), '100 vertebrates Basewise Conservation by PhyloP', BFS, color=TXT_BLUE)
track(f, 447, 1320, 687, 657, cons_ddx17, 30, NAVY)
hline(f, 447, 1320, 687, '#A05A6A', .5)


# ---------- E, dots ----------
def stack_centered(vals, pos, step=.13):
    # dots with the same value sit side by side around the category, like geom_dotplot
    out = []
    seen = {}
    for v in vals:
        n = vals.count(v)
        i = seen.get(v, 0)
        seen[v] = i + 1
        out.append(pos + (i - (n - 1) / 2) * step)
    return out


def dots(rect, title, title_xy, wt, lof, dn, ylim, yticks, yminor, labels):
    ax = px_axes(*rect, zorder=2)
    ax.set_facecolor('#EBECEE')
    x = stack_centered(wt, 0) + stack_centered(lof, 1) + stack_centered(dn, 2)
    df = pd.DataFrame({'pos': x, 'counts': wt + lof + dn, 'Genotype': ['+/+'] * len(wt) + ['LoF/LoF'] * len(lof) + ['DN/DN'] * len(dn)})
    sns.scatterplot(data=df, x='pos', y='counts', hue='Genotype', hue_order=genotypes, palette=['#2F4B9F', '#FDB91C', '#98CF9F'],
                    s=25, linewidth=0, legend=False, ax=ax, zorder=3)
    ax.set_xlim(-.587, 2.587)
    ax.set_ylim(*ylim)
    ax.set_yticks(yticks)
    ax.set_yticklabels(labels, fontsize=6.3, color='#333333')
    ax.set_yticks(yminor, minor=True)
    ax.set_xticks([0, 1, 2])
    ax.set_xticklabels(genotypes, fontsize=8, color='#333333')
    ax.set_axisbelow(True)
    ax.grid(True, which='major', color='white', lw=1.3)
    ax.grid(True, which='minor', axis='y', color='white', lw=.7)
    ax.tick_params(axis='both', which='major', length=2, width=.7, color='#333333', pad=2, left=True, bottom=True)
    ax.tick_params(axis='y', which='minor', length=0)
    ax.set_xlabel('Genotype', fontsize=8.3, labelpad=2, color='#333333')
    ax.set_ylabel('VST\u2212normalized counts', fontsize=8, labelpad=3, color='#333333')
    for sp in ax.spines.values():
        sp.set_color('#555555')
        sp.set_linewidth(1.1)
    txt(*title_xy, title, 11, weight='bold')


dots((622.7, 827.3, 774, 982.3), 'NR3C1', (704.5, 814), nr3c1_wt, nr3c1_lof, nr3c1_dn, (10.52, 11.585),
     [10.75, 11, 11.25, 11.5], [10.625, 10.875, 11.125, 11.375], ['10.75', '11.00', '11.25', '11.50'])
dots((622, 1087.3, 777.3, 1240.7), 'DDX17', (706, 1073), ddx17_wt, ddx17_lof, ddx17_dn, (14.678, 15.557),
     [14.8, 15, 15.2, 15.4], [14.7, 14.9, 15.1, 15.3, 15.5], ['14.8', '15.0', '15.2', '15.4'])

fig.savefig('out.png', dpi=100)
